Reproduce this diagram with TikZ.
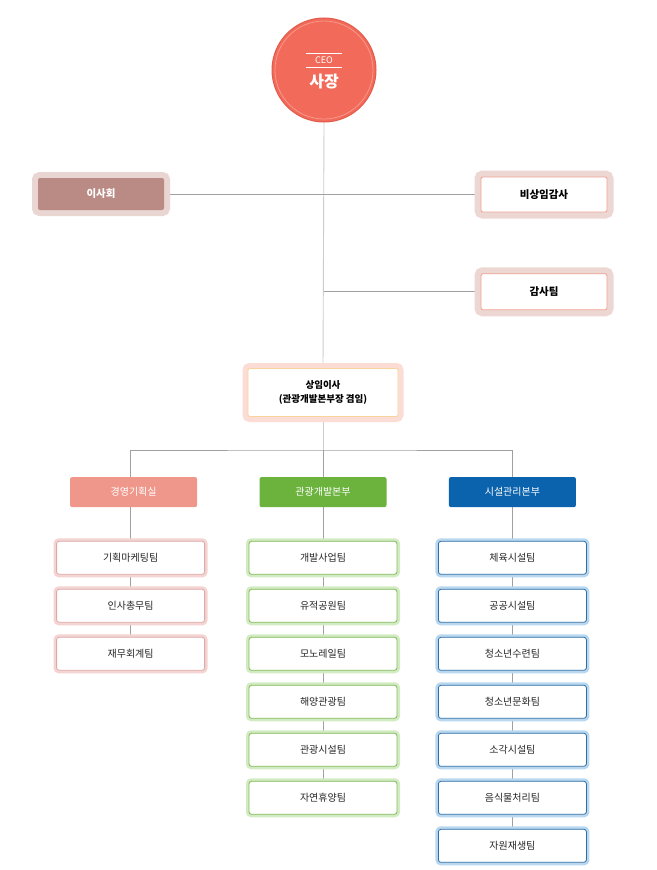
\documentclass[tikz,border=0pt]{standalone}
\usepackage{fontspec}
\setmainfont{Noto Sans CJK KR}
\usepackage{xcolor}
\usepackage{tikz}
\usetikzlibrary{positioning, calc, backgrounds}

\definecolor{ceored}{HTML}{F26B5A}
\definecolor{ceoedge}{HTML}{E45A4A}
\definecolor{ceoring}{HTML}{F6978A}
\definecolor{boardfill}{HTML}{BA8A84}
\definecolor{boardhalo}{HTML}{E9D5D2}
\definecolor{audithalo}{HTML}{EDD7D3}
\definecolor{auditline}{HTML}{EFA08F}
\definecolor{sangimhalo}{HTML}{FCDDD6}
\definecolor{sangimline}{HTML}{F6D49C}
\definecolor{planfill}{HTML}{F0978B}
\definecolor{devfill}{HTML}{6CB33E}
\definecolor{facilfill}{HTML}{0A63AC}
\definecolor{planhalo}{HTML}{F3D4D3}
\definecolor{planline}{HTML}{DDAAA7}
\definecolor{devhalo}{HTML}{D3EBC2}
\definecolor{devline}{HTML}{82B95A}
\definecolor{facilhalo}{HTML}{B9D7EF}
\definecolor{facilline}{HTML}{2E6FA7}
\definecolor{trunkgray}{HTML}{CCCCCC}
\definecolor{branchgray}{HTML}{A0A0A0}

\begin{document}
\begin{tikzpicture}[
    x=1pt, y=-1pt,
    node distance=15pt,
    halo/.style 2 args={preaction={draw=#1, line width=#2}},
    top/.style={rectangle, rounded corners=2pt, text centered, minimum width=126pt, minimum height=33pt, font=\fontsize{10.5}{12}\selectfont\bfseries},
    division/.style={rectangle, rounded corners=2pt, text centered, text=white, minimum width=127pt, minimum height=30pt, font=\fontsize{10}{12}\selectfont},
    team/.style={rectangle, draw, fill=white, rounded corners=2.5pt, text centered, text=black!85, minimum width=148pt, minimum height=33pt, outer sep=0pt, line width=0.8pt, font=\fontsize{10}{12}\selectfont},
    planteam/.style={team, draw=planline, halo={planhalo}{6pt}},
    devteam/.style={team, draw=devline, halo={devhalo}{6pt}},
    facilteam/.style={team, draw=facilline, halo={facilhalo}{6pt}},
    trunk/.style={draw=trunkgray, line width=0.9pt},
    branch/.style={draw=branchgray, line width=0.8pt}
]
    \useasboundingbox (0,0) rectangle (656,870);

    % CEO
    \node (ceo) [circle, fill=ceored, draw=ceoedge, line width=1pt, minimum size=104pt] at (324,70) {};
    \draw [ceoring, line width=0.8pt] (ceo.center) circle (49pt);
    \node (ceotag) [text=white, font=\fontsize{9}{10}\selectfont] at (324,60.5) {CEO};
    \draw [white, line width=0.6pt] ($(ceo.center)+(-18,-17)$) -- ($(ceo.center)+(18,-17)$);
    \draw [white, line width=0.6pt] ($(ceo.center)+(-18,-3)$) -- ($(ceo.center)+(18,-3)$);
    \node (ceoname) [text=white, font=\fontsize{16}{18}\selectfont\bfseries] at (324,82) {사장};

    % Board and audit
    \node (board) [top, fill=boardfill, text=white, minimum height=32pt, halo={boardhalo}{12pt}] at (101,194) {이사회};
    \node (auditor) [top, fill=white, draw=auditline, line width=0.8pt, minimum height=35pt, halo={audithalo}{13pt}] at (544,194.5) {비상임감사};
    \node (auditteam) [top, fill=white, draw=auditline, line width=0.8pt, minimum height=36pt, halo={audithalo}{13pt}, below=61pt of auditor] {감사팀};

    % Standing director
    \node (sangim) [rectangle, rounded corners=2pt, fill=white, draw=sangimline, line width=0.8pt, halo={sangimhalo}{11pt}, minimum width=150pt, minimum height=48pt, align=center, font=\fontsize{9.5}{14}\selectfont\bfseries] at (323,392.5) {상임이사\\(관광개발본부장 겸임)};

    % Divisions
    \node (dev) [division, fill=devfill, below=60pt of sangim] {관광개발본부};
    \node (plan) [division, fill=planfill, left=62pt of dev] {경영기획실};
    \node (facil) [division, fill=facilfill, right=62pt of dev] {시설관리본부};

    % Teams
    \node (plan1) [planteam, below=34pt of plan, xshift=-3pt] {기획마케팅팀};
    \node (plan2) [planteam, below=of plan1] {인사총무팀};
    \node (plan3) [planteam, below=of plan2] {재무회계팀};

    \node (dev1) [devteam, below=34pt of dev] {개발사업팀};
    \node (dev2) [devteam, below=of dev1] {유적공원팀};
    \node (dev3) [devteam, below=of dev2] {모노레일팀};
    \node (dev4) [devteam, below=of dev3] {해양관광팀};
    \node (dev5) [devteam, below=of dev4] {관광시설팀};
    \node (dev6) [devteam, below=of dev5] {자연휴양팀};

    \node (facil1) [facilteam, below=34pt of facil] {체육시설팀};
    \node (facil2) [facilteam, below=of facil1] {공공시설팀};
    \node (facil3) [facilteam, below=of facil2] {청소년수련팀};
    \node (facil4) [facilteam, below=of facil3] {청소년문화팀};
    \node (facil5) [facilteam, below=of facil4] {소각시설팀};
    \node (facil6) [facilteam, below=of facil5] {음식물처리팀};
    \node (facil7) [facilteam, below=of facil6] {자원재생팀};

    % Lines
    \coordinate (fork) at (sangim.center |- 0,450);
    \begin{scope}[on background layer]
        \path [trunk] (ceo.south) -- (sangim.north);
        \path [trunk] (sangim.south) -- (fork);
        \path [branch] (board.east) -- (board.east -| auditor.west);
        \path [branch] (ceo.center |- auditteam.west) -- (auditteam.west);
        \path [branch] (plan3.center) -- (plan1.center |- fork) -- (fork) -| (facil.north);
        \path [branch] (fork) -- (dev.north);
        \path [branch] (dev.south) -- (dev6.center);
        \path [branch] (facil.south) -- (facil7.center);
    \end{scope}

\end{tikzpicture}
\end{document}
